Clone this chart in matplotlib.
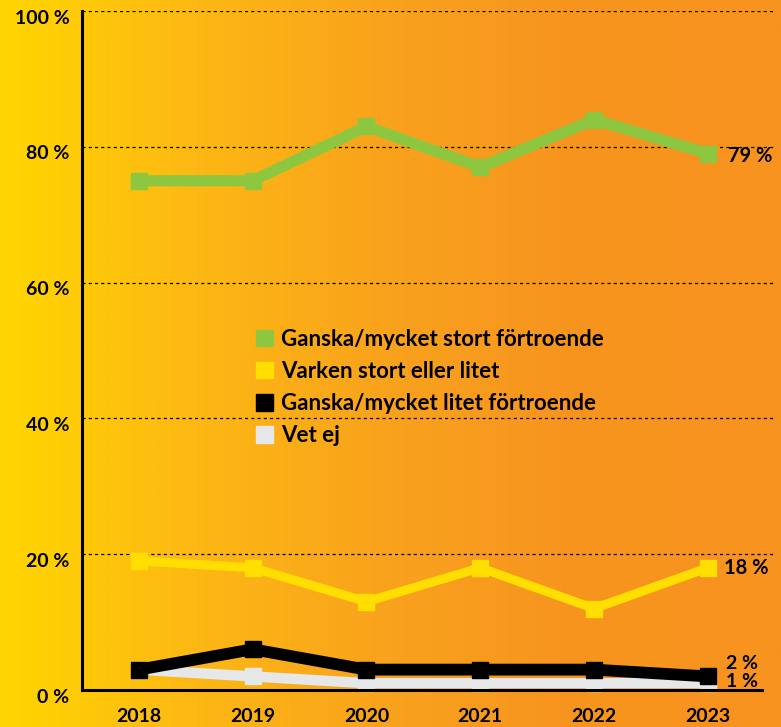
import numpy as np
import matplotlib.pyplot as plt
import matplotlib.transforms as mtransforms
from matplotlib.patches import Patch
from matplotlib.colors import LinearSegmentedColormap

years = ['2018', '2019', '2020', '2021', '2022', '2023']
stort = [75, 75, 83, 77, 84, 79]
varken = [19, 18, 13, 18, 12, 18]
litet = [3, 6, 3, 3, 3, 2]
vet_ej = [3, 2, 1, 1, 1, 1]
yticks = [0, 20, 40, 60, 80, 100]

green = '#8DC63F'
yellow = '#FFDE00'
black = '#000000'
grey = '#E6E7E8'

plt.rcParams['font.family'] = ['Lato', 'DejaVu Sans']
plt.rcParams['font.weight'] = 'bold'

fig = plt.figure(figsize=(7.81, 7.27), dpi=100)

# gradient background, yellow -> orange
bg = fig.add_axes([0, 0, 1, 1], zorder=-10)
cmap = LinearSegmentedColormap.from_list(
    'bg', [(0, '#FFD600'), (0.25, '#FDB814'), (0.5, '#F9A21D'), (0.72, '#F7951F'), (1, '#F7931E')])
bg.imshow(np.linspace(0, 1, 512).reshape(1, -1), cmap=cmap, aspect='auto', extent=[0, 1, 0, 1])
bg.axis('off')

ax = fig.add_axes([82/781, 1-690/727, (775-82)/781, (690-11)/727])
ax.patch.set_alpha(0)
x = np.arange(len(years))

ax.plot(x, vet_ej, color=grey, lw=7.5, marker='s', ms=12, solid_joinstyle='miter', zorder=3, clip_on=False)
ax.plot(x, litet, color=black, lw=8.5, marker='s', ms=12, solid_joinstyle='miter', zorder=4, clip_on=False)
ax.plot(x, varken, color=yellow, lw=6.5, marker='s', ms=12, solid_joinstyle='miter', zorder=4)
ax.plot(x, stort, color=green, lw=8, marker='s', ms=12, solid_joinstyle='miter', zorder=4)

ax.set_xlim(-0.5, 5.59)
ax.set_ylim(0, 100)
for v in yticks[1:]:
    ax.axhline(v, color='black', lw=0.9, ls=(0, (2.5, 2.5)), zorder=1)
ax.axhline(0, xmin=0, xmax=(762-82)/(775-82), color='black', lw=2.2, zorder=5, clip_on=False)

for s in ['top', 'right', 'bottom']:
    ax.spines[s].set_visible(False)
ax.spines['left'].set_linewidth(2.2)

ax.set_yticks(yticks)
ax.set_yticklabels([f'{v} %' for v in yticks], fontsize=14, fontweight='bold')
ax.set_xticks(x)
ax.set_xticklabels(years, fontsize=14, fontweight='bold')
ax.tick_params(axis='both', length=0)
ax.tick_params(axis='y', pad=9)
ax.tick_params(axis='x', pad=13)
shift = mtransforms.ScaledTranslation(0, -4/72, fig.dpi_scale_trans)
for lab in ax.get_yticklabels():
    lab.set_transform(lab.get_transform() + shift)

ax.text(5.18, stort[-1] - 0.3, f'{stort[-1]} %', fontsize=14.5, fontweight='bold', va='center')
ax.text(5.14, varken[-1], f'{varken[-1]} %', fontsize=14.5, fontweight='bold', va='center')
ax.text(5.16, 3.9, f'{litet[-1]} %', fontsize=14, fontweight='bold', va='center')
ax.text(5.16, 1.2, f'{vet_ej[-1]} %', fontsize=14, fontweight='bold', va='center')

handles = [Patch(color=green), Patch(color=yellow), Patch(color=black), Patch(color=grey)]
labels = ['Ganska/mycket stort förtroende', 'Varken stort eller litet',
          'Ganska/mycket litet förtroende', 'Vet ej']
leg = ax.legend(handles, labels, loc='upper left', bbox_to_anchor=((247-82)/693, (690-320)/679),
                frameon=False, fontsize=16, handlelength=0.75, handleheight=0.75,
                handletextpad=0.4, labelspacing=0.5, borderaxespad=0)
for t in leg.get_texts():
    t.set_fontweight('bold')
leg.set_zorder(6)

fig.savefig('out.png', dpi=100)
